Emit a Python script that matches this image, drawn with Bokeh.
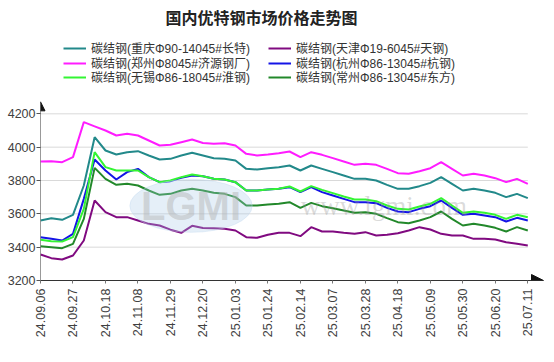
import math
from bokeh.plotting import figure
from bokeh.models import (Range1d, FixedTicker, Legend, LegendItem, Arrow,
                          NormalHead, Label)
from bokeh.embed import file_html
from bokeh.resources import INLINE

chart_title = "国内优特钢市场价格走势图"

tick_labels = ["24.09.06", "24.09.27", "24.10.18", "24.11.08", "24.11.29",
               "24.12.20", "25.01.03", "25.01.24", "25.02.14", "25.03.07",
               "25.03.28", "25.04.18", "25.05.09", "25.05.30", "25.06.20",
               "25.07.11"]
tick_step = 3

y_ticks = [3200, 3400, 3600, 3800, 4000, 4200]

names = ["碳结钢(重庆Φ90-14045#长特)", "碳结钢(天津Φ19-6045#天钢)",
         "碳结钢(郑州Φ8045#济源钢厂)", "碳结钢(杭州Φ86-13045#杭钢)",
         "碳结钢(无锡Φ86-18045#淮钢)", "碳结钢(常州Φ86-13045#东方)"]
colors = ["#22898a", "#800a80", "#ff1cff", "#1414e6", "#33f533", "#22882a"]

chongqing = [3560, 3574, 3564, 3594, 3770, 4060, 3980, 3956, 3970, 3976,
             3950, 3926, 3930, 3950, 3966, 3950, 3934, 3930, 3920, 3870,
             3866, 3874, 3880, 3890, 3860, 3890, 3870, 3850, 3830, 3810,
             3810, 3800, 3774, 3750, 3750, 3766, 3786, 3820, 3780, 3740,
             3750, 3740, 3726, 3700, 3720, 3694]
tianjin = [3356, 3334, 3326, 3350, 3440, 3680, 3610, 3580, 3580, 3560,
           3540, 3530, 3505, 3486, 3528, 3515, 3514, 3510, 3500, 3460,
           3456, 3474, 3486, 3486, 3466, 3520, 3494, 3494, 3486, 3480,
           3490, 3470, 3474, 3484, 3500, 3520, 3506, 3480, 3470, 3470,
           3450, 3450, 3446, 3430, 3420, 3410]
zhengzhou = [3914, 3916, 3910, 3940, 4150, 4125, 4100, 4070, 4080, 4070,
             4040, 4010, 4014, 4030, 4046, 4025, 4020, 4024, 4010, 3960,
             3950, 3956, 3964, 3974, 3940, 3970, 3954, 3934, 3914, 3894,
             3900, 3894, 3870, 3844, 3840, 3856, 3874, 3910, 3870, 3830,
             3840, 3830, 3814, 3790, 3810, 3780]
hangzhou = [3460, 3450, 3440, 3480, 3690, 3926, 3860, 3806, 3850, 3870,
            3820, 3790, 3796, 3816, 3830, 3825, 3810, 3806, 3790, 3740,
            3740, 3746, 3750, 3760, 3730, 3760, 3730, 3710, 3690, 3670,
            3670, 3664, 3636, 3614, 3610, 3630, 3646, 3680, 3636, 3594,
            3600, 3590, 3580, 3554, 3576, 3560]
wuxi = [3444, 3436, 3434, 3460, 3630, 3970, 3880, 3860, 3860, 3860,
        3820, 3790, 3800, 3820, 3836, 3825, 3810, 3806, 3790, 3740,
        3740, 3746, 3750, 3764, 3734, 3766, 3744, 3724, 3704, 3686,
        3686, 3676, 3650, 3630, 3626, 3644, 3660, 3694, 3650, 3606,
        3614, 3606, 3594, 3570, 3594, 3580]
changzhou = [3406, 3400, 3394, 3420, 3570, 3876, 3810, 3774, 3780, 3770,
             3740, 3714, 3720, 3740, 3750, 3740, 3726, 3720, 3700, 3650,
             3650, 3656, 3660, 3670, 3636, 3666, 3646, 3634, 3620, 3606,
             3610, 3600, 3574, 3550, 3544, 3560, 3580, 3614, 3570, 3530,
             3540, 3530, 3516, 3494, 3520, 3500]

series = [chongqing, tianjin, zhengzhou, hangzhou, wuxi, changzhou]
n = len(chongqing)
xs = list(range(n))

p = figure(width=544, height=356, output_backend="svg", toolbar_location=None,
           x_range=Range1d(0, 46.45), y_range=Range1d(3200, 4844),
           min_border_left=40, min_border_right=1, min_border_top=6,
           min_border_bottom=76, outline_line_color=None)
p.xgrid.visible = False
p.ygrid.visible = False

# horizontal gridlines, ending at the last data point
grid_vals = y_ticks[1:]
p.segment(x0=[xs[0]] * len(grid_vals), y0=grid_vals,
          x1=[xs[-1]] * len(grid_vals), y1=grid_vals,
          line_color="#d9d9d9", line_width=1)

renderers = []
for vals, c in zip(series, colors):
    r = p.line(xs, vals, line_color=c, line_width=2)
    renderers.append(r)

# watermark
p.ellipse(x=[13.9], y=[3648], width=[11.3], height=[318],
          fill_color="#a9c9e8", fill_alpha=0.3, line_color="#c4daf0",
          line_alpha=0.4)
p.add_layout(Label(x=13.9, y=3650, text="LGMI", text_align="center",
                   text_baseline="middle", text_font_size="40px",
                   text_font_style="bold", text_font="Liberation Sans",
                   text_color="#b0b0b0", text_alpha=0.45))
p.add_layout(Label(x=31.7, y=3650, text="www.lgmi.com", text_align="center",
                   text_baseline="middle", text_font_size="27px",
                   text_font="Liberation Serif",
                   text_color="#999999", text_alpha=0.35))

# axes
tick_pos = [i * tick_step for i in range(len(tick_labels))]
p.xaxis.ticker = FixedTicker(ticks=tick_pos)
p.xaxis.major_label_overrides = {t: lab for t, lab in zip(tick_pos, tick_labels)}
p.xaxis.major_label_orientation = math.pi / 2
p.xaxis.axis_line_color = "#333333"
p.xaxis.major_tick_line_color = "#777777"
p.xaxis.major_tick_out = 3
p.xaxis.major_tick_in = 0
p.xaxis.minor_tick_line_color = None
p.xaxis.major_label_standoff = 5
p.xaxis.major_label_text_font = "Liberation Sans"
p.xaxis.major_label_text_font_size = "12.5px"
p.xaxis.major_label_text_color = "#404040"

p.yaxis.ticker = FixedTicker(ticks=y_ticks)
p.yaxis.axis_line_color = None
p.yaxis.major_tick_line_color = "#555555"
p.yaxis.major_tick_out = 4
p.yaxis.major_tick_in = 0
p.yaxis.minor_tick_line_color = None
p.yaxis.major_label_standoff = 1
p.yaxis.major_label_text_font = "Liberation Sans"
p.yaxis.major_label_text_font_size = "12.5px"
p.yaxis.major_label_text_color = "#404040"

# axis arrows
p.add_layout(Arrow(x_start=0, y_start=3200, x_end=0, y_end=4272,
                   line_color="#333333", line_width=1,
                   end=NormalHead(size=9, fill_color="#111111",
                                  line_color="#111111")))
p.add_layout(Arrow(x_start=45, y_start=3200, x_end=46.45, y_end=3200,
                   line_color="#333333", line_width=1,
                   end=NormalHead(size=12, fill_color="#111111",
                                  line_color="#111111")))

# title
p.add_layout(Label(x=221, y=264, x_units="screen", y_units="screen",
                   text=chart_title, text_align="center",
                   text_baseline="middle", text_font="Noto Sans CJK SC",
                   text_font_size="16px", text_font_style="bold",
                   text_color="#222222"))

# legend: three rows of two entries each
row_pairs = [(0, 1), (2, 3), (4, 5)]
row_y = [224, 209, 195]
for (a, b), ly in zip(row_pairs, row_y):
    items = [LegendItem(label=names[k], renderers=[renderers[k]]) for k in (a, b)]
    lg = Legend(items=items, location=(23, ly), orientation="horizontal",
                padding=0, margin=0, spacing=0,
                border_line_color=None, background_fill_alpha=0,
                glyph_width=23, glyph_height=14, label_height=14,
                label_standoff=5, label_width=177,
                label_text_font="Liberation Sans, Noto Sans CJK SC",
                label_text_font_size="12px", label_text_color="#333333")
    p.add_layout(lg)

open("out.html", "w").write(file_html(p, INLINE))
